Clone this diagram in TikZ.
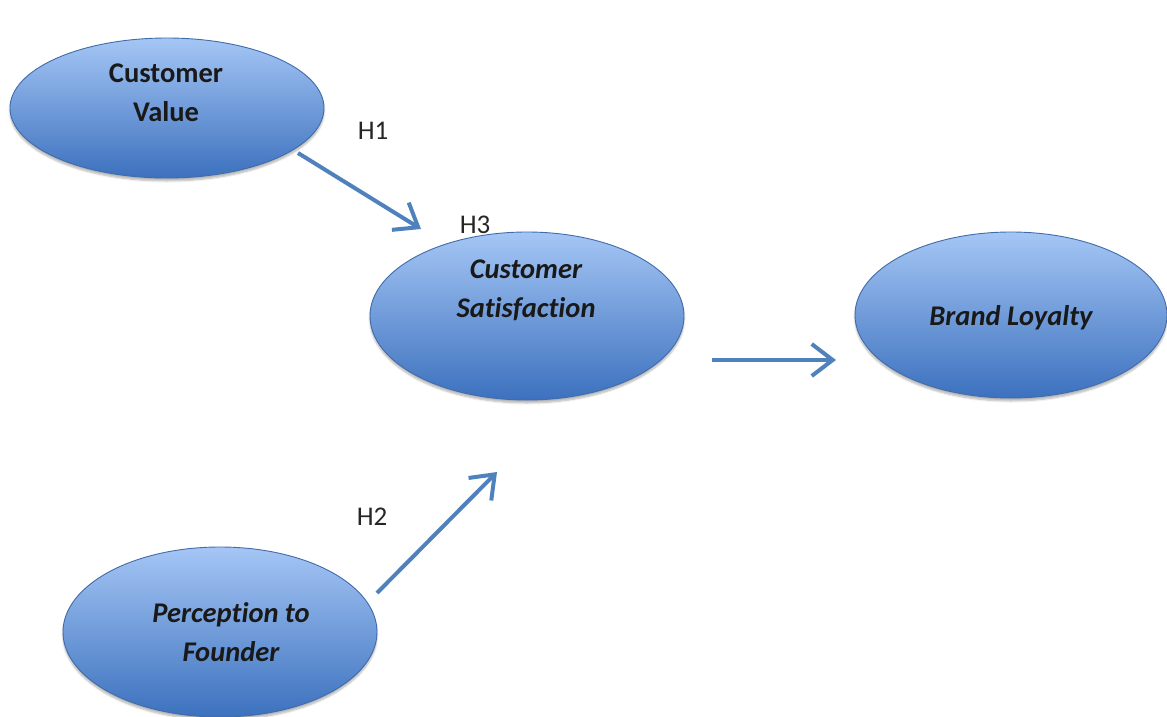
\documentclass[tikz,border=0pt]{standalone}
\usepackage{fontspec}
\setmainfont[Ligatures=NoCommon]{Carlito}
\usetikzlibrary{shapes.geometric,arrows.meta,shadows.blur}

\definecolor{linkblue}{RGB}{79,129,189}
\definecolor{rimblue}{RGB}{64,108,170}
\definecolor{topblue}{RGB}{165,198,245}
\definecolor{botblue}{RGB}{60,113,190}

\tikzset{
  construct/.style={ellipse, draw=rimblue, line width=0.9pt,
    top color=topblue, bottom color=botblue, inner sep=0pt,
    blur shadow={shadow xshift=0pt, shadow yshift=-3pt, shadow opacity=30, shadow blur steps=6}},
  caption/.style={font=\fontsize{28.5}{39}\selectfont\bfseries\itshape, align=center, text=black!90},
  hyp/.style={font=\fontsize{27}{32}\selectfont, text=black!85},
  link/.style={draw=linkblue, line width=4pt,
    -{Straight Barb[length=21pt, width=32pt, line width=4pt]}},
}

\begin{document}
\begin{tikzpicture}[x=1pt, y=-1pt]
  \useasboundingbox (0,0) rectangle (1167,717);

  % constructs
  \node[construct, minimum width=314pt, minimum height=140pt] (cv) at (167,108) {};
  \node[construct, minimum width=314pt, minimum height=168pt] (cs) at (527,316) {};
  \node[construct, minimum width=312pt, minimum height=166pt] (bl) at (1011,315) {};
  \node[construct, minimum width=314pt, minimum height=170pt] (pf) at (220,632) {};

  % construct names
  \node[caption, font=\fontsize{28.5}{39}\selectfont\bfseries] (cvt) at (166,93) {Customer\\Value};
  \node[caption] (cst) at (526,290) {Customer\\Satisfaction};
  \node[caption] (blt) at (1011,318) {Brand Loyalty};
  \node[caption] (pft) at (231,632) {Perception to\\Founder};

  % free ends of the paths
  \coordinate (h1a) at (298,153);
  \coordinate (h1b) at (421,229);
  \coordinate (h2a) at (377,593);
  \coordinate (h2b) at (497,472);
  \coordinate (h3a) at (712,360);
  \coordinate (h3b) at (836,360);

  \draw[link] (h1a) -- (h1b);
  \draw[link] (h2a) -- (h2b);
  \draw[link] (h3a) -- (h3b);

  % hypothesis labels
  \node[hyp] (l1) at (373,131) {H1};
  \node[hyp] (l2) at (372,517) {H2};
  \node[hyp] (l3) at (475,225) {H3};
\end{tikzpicture}
\end{document}
